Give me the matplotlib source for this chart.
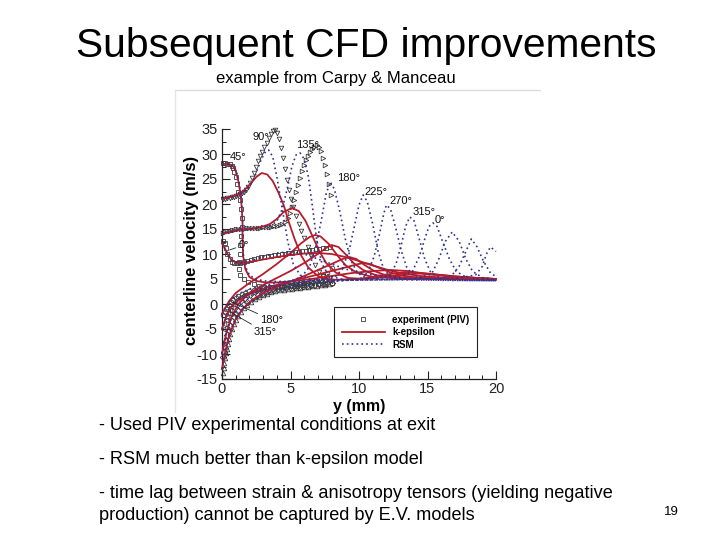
import matplotlib
matplotlib.use("Agg")
import matplotlib.pyplot as plt
from matplotlib.lines import Line2D
from matplotlib.ticker import MultipleLocator

plt.rcParams['font.family'] = ['Liberation Sans', 'DejaVu Sans']
plt.rcParams['axes.unicode_minus'] = False

# ---------------- data ----------------
PHASES = ["0", "45", "90", "135", "180", "225", "270", "315"]

# experiment (PIV)
EXP0_X = [0.1, 0.2, 0.3, 0.4, 0.55, 0.7, 0.9, 1.1, 1.35, 1.6, 1.85, 2.1, 2.35, 2.6, 2.85, 3.1, 3.35, 3.6,
          3.85, 4.1, 4.35, 4.6, 4.85, 5.1, 5.35, 5.6, 5.85, 6.1, 6.35, 6.6, 6.85, 7.1, 7.35, 7.6, 7.85]
EXP0_Y = [12.6, 12.2, 11.2, 10.0, 9.0, 8.5, 8.2, 8.2, 8.3, 8.4, 8.6, 8.8, 9.0, 9.2, 9.4, 9.5, 9.6, 9.7,
          9.8, 9.9, 10.0, 10.1, 10.2, 10.3, 10.4, 10.5, 10.6, 10.7, 10.8, 10.9, 11.0, 11.1, 11.2, 11.3, 11.4]
EXP45_X = [0.1, 0.25, 0.4, 0.55, 0.7, 0.8, 0.9, 1.0, 1.1, 1.2, 1.3, 1.4, 1.45, 1.45, 1.4, 1.35, 1.3, 1.25,
           1.25, 1.35, 1.6, 1.9, 2.3, 2.7, 3.1, 3.5, 4.0, 4.5, 5.0, 5.5, 6.0, 6.5, 7.0, 7.5, 8.0]
EXP45_Y = [28.2, 28.2, 28.1, 28.0, 27.7, 27.2, 26.4, 25.4, 24.0, 22.5, 20.8, 19.0, 17.2, 15.4, 13.6, 11.8,
           10.0, 8.4, 7.0, 5.9, 5.0, 4.4, 4.0, 3.7, 3.5, 3.4, 3.4, 3.5, 3.6, 3.7, 3.8, 3.9, 4.0, 4.1, 4.2]
EXP90_X = [0.1, 0.25, 0.4, 0.55, 0.7, 0.85, 1.0, 1.15, 1.3, 1.45, 1.6, 1.75, 1.9, 2.05, 2.2, 2.35, 2.5,
           2.65, 2.8, 2.95, 3.1, 3.25, 3.4, 3.55, 3.7, 3.85, 4.0, 4.15, 4.3, 4.45, 4.6, 4.75, 4.9, 5.05,
           5.2, 5.4, 5.6, 5.8, 6.0, 6.25, 6.5, 6.8, 7.1, 7.4, 7.7, 8.0]
EXP90_Y = [21.0, 21.1, 21.2, 21.3, 21.4, 21.5, 21.6, 21.8, 22.0, 22.2, 22.5, 22.9, 23.4, 24.2, 25.2, 26.3,
           27.5, 28.6, 29.6, 30.5, 31.4, 32.3, 33.2, 34.0, 34.7, 34.8, 34.2, 33.0, 31.2, 29.2, 27.0, 24.8,
           22.8, 21.0, 19.4, 17.6, 16.0, 14.6, 13.2, 11.4, 9.6, 7.8, 6.5, 5.6, 5.0, 4.6]
EXP135_X = [0.1, 0.25, 0.4, 0.55, 0.7, 0.85, 1.0, 1.2, 1.4, 1.6, 1.8, 2.0, 2.2, 2.4, 2.6, 2.8, 3.0, 3.2,
            3.4, 3.6, 3.8, 4.0, 4.2, 4.4, 4.6, 4.8, 4.95, 5.1, 5.25, 5.4, 5.55, 5.7, 5.85, 6.0, 6.15, 6.3,
            6.45, 6.6, 6.75, 6.9, 7.05, 7.2, 7.35, 7.5, 7.65, 7.8, 7.95]
EXP135_Y = [14.2, 14.4, 14.6, 14.7, 14.8, 14.9, 15.0, 15.0, 15.1, 15.1, 15.2, 15.2, 15.2, 15.3, 15.3, 15.3,
            15.4, 15.4, 15.5, 15.5, 15.6, 15.7, 15.9, 16.0, 16.4, 17.2, 18.2, 19.5, 20.9, 22.4, 23.9, 25.3,
            26.6, 27.8, 28.8, 29.7, 30.4, 31.0, 31.5, 31.8, 31.5, 30.6, 29.3, 27.8, 26.0, 24.0, 21.8]
EXP180_X = [0.1, 0.2, 0.3, 0.4, 0.5, 0.65, 0.8, 1.0, 1.2, 1.45, 1.7, 2.0, 2.3, 2.6, 2.9, 3.2, 3.5, 3.8,
            4.1, 4.4, 4.7, 5.0, 5.3, 5.6, 5.9, 6.2, 6.5, 6.8, 7.1, 7.4, 7.7, 8.0]
EXP180_Y = [-2.2, -1.6, -1.0, -0.5, -0.1, 0.4, 0.8, 1.2, 1.6, 2.0, 2.3, 2.6, 2.8, 3.0, 3.2, 3.3, 3.4, 3.5,
            3.6, 3.7, 3.8, 3.9, 4.0, 4.1, 4.2, 4.3, 4.4, 4.7, 5.1, 5.6, 6.3, 7.2]
EXP225_X = [0.1, 0.15, 0.2, 0.3, 0.4, 0.5, 0.6, 0.75, 0.9, 1.05, 1.2, 1.4, 1.6, 1.8, 2.0, 2.3, 2.6, 2.9,
            3.2, 3.5, 3.8, 4.1, 4.4, 4.7, 5.0, 5.3, 5.6, 5.9, 6.2, 6.5, 6.8, 7.1, 7.4, 7.7, 8.0]
EXP225_Y = [-10.5, -9.6, -8.8, -7.4, -6.2, -5.2, -4.4, -3.4, -2.6, -1.9, -1.3, -0.6, 0.0, 0.5, 0.9, 1.4,
            1.8, 2.1, 2.4, 2.6, 2.8, 3.0, 3.1, 3.2, 3.3, 3.4, 3.5, 3.6, 3.7, 3.8, 3.9, 4.0, 4.1, 4.2, 4.3]
EXP270_X = [0.1, 0.13, 0.17, 0.22, 0.28, 0.35, 0.43, 0.52, 0.62, 0.74, 0.88, 1.03, 1.2, 1.4, 1.6, 1.85,
            2.1, 2.4, 2.7, 3.0, 3.3, 3.6, 3.9, 4.2, 4.5, 4.8, 5.1, 5.4, 5.7, 6.0, 6.3, 6.6, 6.9, 7.2, 7.5, 7.8]
EXP270_Y = [-13.8, -12.8, -11.8, -10.8, -9.8, -8.9, -8.0, -7.0, -6.0, -5.0, -4.0, -3.1, -2.3, -1.5, -0.8,
            -0.1, 0.5, 1.0, 1.4, 1.8, 2.1, 2.4, 2.6, 2.8, 2.9, 3.0, 3.1, 3.2, 3.3, 3.4, 3.5, 3.6, 3.7, 3.8,
            3.9, 4.0]
EXP315_X = [0.1, 0.18, 0.26, 0.35, 0.45, 0.56, 0.68, 0.82, 0.98, 1.15, 1.35, 1.6, 1.85, 2.1, 2.4, 2.7,
            3.0, 3.3, 3.6, 3.9, 4.2, 4.5, 4.8, 5.1, 5.4, 5.7, 6.0, 6.3, 6.6, 6.9, 7.2, 7.5, 7.8]
EXP315_Y = [-5.0, -4.0, -3.2, -2.5, -1.8, -1.2, -0.6, 0.0, 0.5, 1.0, 1.4, 1.8, 2.1, 2.4, 2.7, 2.9, 3.1,
            3.3, 3.5, 3.6, 3.7, 3.8, 3.9, 4.0, 4.1, 4.2, 4.3, 4.4, 4.5, 4.6, 4.7, 4.8, 4.9]

# k-epsilon
KE0_X = [0, 0.2, 0.4, 0.7, 1.0, 1.5, 2.0, 3.0, 4.0, 5.0, 6.0, 7.0, 8.0, 9.0, 10.0, 11.0, 12.0, 13.0, 14.5,
         16.0, 18.0, 20.0]
KE0_Y = [12.2, 11.2, 10.0, 8.8, 8.3, 8.2, 8.4, 8.9, 9.4, 9.8, 10.1, 10.2, 10.0, 9.4, 8.6, 7.7, 6.9, 6.2,
         5.6, 5.3, 5.1, 5.0]
KE45_X = [0, 0.5, 0.8, 1.0, 1.2, 1.35, 1.45, 1.5, 1.5, 1.55, 1.7, 2.0, 2.5, 3.2, 4.0, 5.0, 6.5, 8.0, 9.5,
          11.0, 12.3, 13.5, 15.0, 17.0, 20.0]
KE45_Y = [28.0, 28.0, 27.6, 26.6, 24.5, 22.0, 19.0, 16.0, 12.5, 9.5, 7.0, 5.4, 4.6, 4.3, 4.3, 4.5, 5.0,
          5.6, 6.2, 6.6, 6.8, 6.6, 6.0, 5.4, 5.0]
KE90_X = [0, 0.5, 1.0, 1.5, 2.0, 2.5, 2.9, 3.3, 3.7, 4.1, 4.5, 4.9, 5.3, 5.8, 6.3, 7.0, 8.0, 10.0, 12.0,
          13.5, 15.0, 17.0, 20.0]
KE90_Y = [21.0, 21.3, 21.7, 22.4, 23.8, 25.4, 26.2, 25.9, 24.6, 22.4, 19.8, 16.2, 13.0, 9.6, 7.3, 5.6,
          4.8, 5.0, 5.9, 6.4, 6.1, 5.5, 5.0]
KE135_X = [0, 0.5, 1.0, 1.5, 2.0, 2.5, 3.0, 3.5, 4.0, 4.5, 5.1, 5.6, 6.1, 6.6, 7.1, 7.6, 8.3, 9.2, 10.5,
           12.5, 14.3, 16, 18, 20]
KE135_Y = [14.0, 14.4, 14.7, 14.9, 15.0, 15.2, 15.5, 16.0, 17.0, 18.4, 19.2, 18.6, 16.6, 13.6, 10.6, 8.2,
           6.3, 5.2, 5.0, 5.6, 6.1, 5.8, 5.3, 5.0]
KE180_X = [0, 0.5, 1, 2, 3, 4, 5, 5.8, 6.4, 6.8, 7.2, 7.8, 8.4, 9.0, 9.8, 11, 13, 15, 17, 20]
KE180_Y = [-2, 0.5, 2.2, 4.2, 6.0, 8.0, 10.2, 12.2, 13.4, 13.8, 13.5, 12.0, 9.8, 7.8, 6.3, 5.4, 5.1, 5.2,
           5.1, 5.0]
KE225_X = [0, 0.3, 0.7, 1.2, 2, 3, 4, 5, 6, 7, 7.6, 8.0, 8.5, 9.0, 9.6, 10.3, 11.2, 12.5, 14, 16, 18, 20]
KE225_Y = [-10, -6, -2.5, 0, 2.2, 3.8, 5.2, 6.6, 8.2, 10.0, 11.2, 11.8, 11.4, 10.0, 8.2, 6.8, 5.8, 5.2,
           5.0, 5.1, 5.0, 4.9]
KE270_X = [0, 0.2, 0.5, 1, 1.5, 2.2, 3, 4, 5, 6, 7, 8, 8.8, 9.3, 9.8, 10.4, 11.1, 12, 13.5, 16, 20]
KE270_Y = [-13, -10, -6.5, -3, -1, 0.8, 2.2, 3.4, 4.5, 5.6, 6.8, 8.0, 9.0, 9.4, 9.0, 7.8, 6.6, 5.7, 5.2,
           5.0, 4.9]
KE315_X = [0, 0.3, 0.7, 1.2, 2, 3, 4, 5, 6, 7, 8, 9, 9.8, 10.3, 10.8, 11.5, 12.3, 13.3, 15, 17, 20]
KE315_Y = [-5, -2.5, -0.5, 0.8, 2.0, 3.0, 3.8, 4.5, 5.2, 5.9, 6.6, 7.3, 7.9, 8.2, 8.0, 7.2, 6.3, 5.6, 5.1,
           5.0, 4.9]

# RSM
RSM0_X = [0, 0.4, 0.8, 1.3, 2, 3, 4, 5, 6, 7, 8, 9, 10, 11, 12, 13, 13.9, 14.4, 14.8, 15.1, 15.4, 15.7,
          16.1, 16.6, 17.1, 17.8, 19, 20]
RSM0_Y = [12.2, 10.0, 8.5, 8.0, 8.5, 9.5, 10.2, 10.5, 10.0, 9.0, 8.0, 7.0, 6.3, 5.8, 5.5, 5.4, 6.5, 9.5,
          13.0, 15.5, 16.2, 15.5, 12.5, 9.0, 6.5, 5.4, 4.9, 4.8]
RSM45_X = [0, 0.5, 0.8, 1.0, 1.2, 1.35, 1.45, 1.5, 1.5, 1.55, 1.7, 2.0, 2.5, 3.2, 4.0, 6.0, 8.0, 10.0,
           12.0, 14.0, 15.3, 15.8, 16.3, 16.8, 17.3, 17.8, 18.3, 19.0, 20.0]
RSM45_Y = [28.0, 28.0, 27.7, 26.9, 25.0, 22.5, 19.5, 16.5, 13.0, 10.0, 7.5, 5.8, 4.9, 4.6, 4.5, 4.6, 4.7,
           4.8, 4.9, 5.0, 6.0, 8.8, 12.5, 14.4, 12.6, 9.0, 6.5, 5.3, 4.9]
RSM90_X = [0, 0.5, 1.0, 1.5, 2.0, 2.4, 2.8, 3.1, 3.4, 3.7, 4.0, 4.4, 4.8, 5.2, 5.7, 6.5, 8, 10, 12, 14,
           16, 16.8, 17.3, 17.8, 18.2, 18.6, 19.1, 19.6, 20]
RSM90_Y = [21, 21.2, 21.6, 22.2, 23.5, 25.5, 28.5, 30.2, 30.8, 29.5, 25.5, 19, 12.5, 8, 5.8, 4.9, 4.7,
           4.8, 4.9, 5.0, 5.1, 5.8, 7.5, 10.5, 13.0, 11.5, 8.5, 6.2, 5.5]
RSM135_X = [0, 0.5, 1, 1.5, 2, 2.5, 3, 3.5, 4.0, 4.4, 4.8, 5.1, 5.4, 5.7, 6.0, 6.3, 6.6, 6.9, 7.3, 7.8,
            9, 11, 13, 15, 17, 18.5, 19.0, 19.3, 19.6, 20.0]
RSM135_Y = [14, 14.4, 14.7, 14.9, 15.0, 15.1, 15.3, 15.6, 16.5, 19, 23.5, 27.5, 29.8, 30.2, 29.0, 25.5,
            19.5, 13.0, 8.0, 5.6, 4.8, 4.8, 4.9, 5.0, 5.1, 5.8, 7.5, 10, 11.4, 10.5]
RSM180_X = [0, 0.3, 0.7, 1.2, 2, 3, 4, 5, 5.8, 6.4, 6.9, 7.3, 7.6, 7.9, 8.2, 8.6, 9.0, 9.4, 9.9, 10.5,
            12, 14, 16, 18, 20]
RSM180_Y = [-2, -0.3, 1.0, 2.0, 3.0, 3.7, 4.2, 4.6, 5.4, 7.5, 12, 17.5, 22, 24.4, 23, 18.5, 13, 8.8, 6.2,
            5.2, 4.9, 4.8, 4.8, 4.7, 4.7]
RSM225_X = [0, 0.2, 0.5, 1, 1.5, 2.2, 3, 4, 5.5, 7, 8.2, 8.8, 9.3, 9.7, 10.0, 10.3, 10.6, 11.0, 11.4,
            11.8, 12.3, 13, 15, 17, 20]
RSM225_Y = [-10, -7, -4, -1.2, 0.5, 1.8, 2.8, 3.6, 4.3, 4.8, 5.3, 7.0, 11, 16, 19.8, 21.8, 20.5, 16, 10.5,
            7.0, 5.5, 5.0, 4.8, 4.7, 4.7]
RSM270_X = [0, 0.2, 0.5, 1, 1.5, 2.2, 3, 4, 5.5, 7, 8.5, 10, 10.6, 11.1, 11.5, 11.8, 12.0, 12.3, 12.7,
            13.1, 13.5, 14.0, 15, 17, 20]
RSM270_Y = [-13, -9.5, -6, -2.8, -1, 0.6, 1.8, 2.8, 3.6, 4.2, 4.6, 4.9, 6.0, 9.5, 14, 18, 19.8, 19, 15,
            10.5, 7.2, 5.6, 5.0, 4.8, 4.7]
RSM315_X = [0, 0.3, 0.7, 1.2, 2, 3, 4, 5.5, 7, 9, 11, 12.2, 12.7, 13.1, 13.4, 13.7, 14.0, 14.4, 14.8,
            15.2, 15.7, 16.5, 18, 20]
RSM315_Y = [-5, -2.8, -0.8, 0.8, 2.0, 3.0, 3.6, 4.2, 4.6, 4.9, 5.0, 5.5, 8, 12, 15.5, 17.4, 16.8, 13, 9,
            6.5, 5.5, 5.0, 4.8, 4.7]

EXP = [(EXP0_X, EXP0_Y), (EXP45_X, EXP45_Y), (EXP90_X, EXP90_Y), (EXP135_X, EXP135_Y),
       (EXP180_X, EXP180_Y), (EXP225_X, EXP225_Y), (EXP270_X, EXP270_Y), (EXP315_X, EXP315_Y)]
KE = [(KE0_X, KE0_Y), (KE45_X, KE45_Y), (KE90_X, KE90_Y), (KE135_X, KE135_Y),
      (KE180_X, KE180_Y), (KE225_X, KE225_Y), (KE270_X, KE270_Y), (KE315_X, KE315_Y)]
RSM = [(RSM0_X, RSM0_Y), (RSM45_X, RSM45_Y), (RSM90_X, RSM90_Y), (RSM135_X, RSM135_Y),
       (RSM180_X, RSM180_Y), (RSM225_X, RSM225_Y), (RSM270_X, RSM270_Y), (RSM315_X, RSM315_Y)]
EXP_MARKERS = ['s', 's', 'v', '>', 'o', 'D', '^', '<']

# phase annotations: (text, x, y)
PHASE_LABELS = [("45°", 0.6, 29.5), ("90°", 2.2, 33.3), ("135°", 5.4, 31.8), ("180°", 8.4, 25.2),
                ("225°", 10.4, 22.4), ("270°", 12.2, 20.6), ("315°", 13.9, 18.4), ("0°", 15.5, 16.8)]
LEADER_LABELS = [("0°", 1.2, 11.8, 0.55, 10.8), ("180°", 2.8, -3.2, 0.7, 0.4), ("315°", 2.3, -5.6, 0.6, -1.6)]

X_TICKS = [0, 5, 10, 15, 20]
Y_TICKS = [-15, -10, -5, 0, 5, 10, 15, 20, 25, 30, 35]

RED = '#b81c2a'
BLUE = '#33338f'
RSM_DASH = (0, (1, 1.9))

# ---------------- figure ----------------
W, H = 720, 540
fig = plt.figure(figsize=(7.2, 5.4), dpi=100)
fig.patch.set_facecolor('white')


def fx(px):
    return px / W


def fy(py):
    return 1 - py / H


# faint border of the embedded picture
fig.add_artist(Line2D([fx(175), fx(540)], [fy(90), fy(90)], color='#dcdcdc', lw=1.0))
fig.add_artist(Line2D([fx(175), fx(175)], [fy(90), fy(412)], color='#e6e6e6', lw=1.0))

ax = fig.add_axes([fx(222), fy(379), fx(496) - fx(222), fy(129) - fy(379)])
ax.set_xlim(0, 20)
ax.set_ylim(-15, 35)
for s in ['top', 'right']:
    ax.spines[s].set_visible(False)
for s in ['left', 'bottom']:
    ax.spines[s].set_linewidth(0.9)
    ax.spines[s].set_color('#222222')

for (x, y), m in zip(EXP, EXP_MARKERS):
    ax.plot(x, y, linestyle='none', marker=m, markersize=3.3, markerfacecolor='none',
            markeredgecolor='#3a3a3a', markeredgewidth=0.6, zorder=2, clip_on=False)
for x, y in KE:
    ax.plot(x, y, color=RED, lw=1.3, zorder=3, clip_on=False)
for x, y in RSM:
    ax.plot(x, y, color=BLUE, lw=1.2, linestyle=RSM_DASH, zorder=4, clip_on=False)

for t, x, y in PHASE_LABELS:
    ax.text(x, y, t, fontsize=8, ha='left', va='center', color='#111111', zorder=6)
for t, x, y, x0, y0 in LEADER_LABELS:
    ax.annotate(t, xy=(x0, y0), xytext=(x, y), fontsize=8, ha='left', va='center', color='#111111',
                arrowprops=dict(arrowstyle='-', lw=0.6, color='#222222', shrinkA=0, shrinkB=0), zorder=6)

ax.set_xticks(X_TICKS)
ax.set_yticks(Y_TICKS)
ax.xaxis.set_minor_locator(MultipleLocator(1))
ax.yaxis.set_minor_locator(MultipleLocator(2.5))
ax.tick_params(which='major', direction='in', length=6, width=0.8, labelsize=10.5, colors='#222222', pad=3)
ax.tick_params(which='minor', direction='in', length=3, width=0.7, colors='#222222')
ax.tick_params(axis='x', pad=2)

ax.set_xlabel('y (mm)', fontsize=11.5, fontweight='bold', labelpad=2)
ax.set_ylabel('centerline velocity (m/s)', fontsize=12, fontweight='bold')
ax.yaxis.set_label_coords((199 - 222) / 274, (379 - 250) / 250)

handles = [Line2D([], [], linestyle='none', marker='s', markersize=3.3, markerfacecolor='none',
                  markeredgecolor='#3a3a3a', markeredgewidth=0.6),
           Line2D([], [], color=RED, lw=1.3),
           Line2D([], [], color=BLUE, lw=1.2, linestyle=RSM_DASH)]
leg = ax.legend(handles, ['experiment (PIV)', 'k-epsilon', 'RSM'], loc='upper left',
                bbox_to_anchor=((334 - 222) / 274, (379 - 307) / 250), borderaxespad=0,
                prop={'size': 7, 'weight': 'bold'}, handlelength=4.4, handletextpad=0.8,
                labelspacing=0.25, borderpad=0.8, fancybox=False, framealpha=1, edgecolor='#222222',
                numpoints=1)
leg.get_frame().set_linewidth(0.8)
leg.set_zorder(10)

# slide texts
fig.text(fx(366), fy(46), 'Subsequent CFD improvements', fontsize=29.3, ha='center', va='center')
fig.text(fx(336), fy(79), 'example from Carpy & Manceau', fontsize=12, ha='center', va='center')
BODY = 13.1
fig.text(fx(99), fy(426), '- Used PIV experimental conditions at exit', fontsize=BODY, ha='left', va='center')
fig.text(fx(99), fy(460), '- RSM much better than k-epsilon model', fontsize=BODY, ha='left', va='center')
fig.text(fx(99), fy(494), '- time lag between strain & anisotropy tensors (yielding negative',
         fontsize=BODY, ha='left', va='center')
fig.text(fx(99), fy(516), 'production) cannot be captured by E.V. models', fontsize=BODY, ha='left',
         va='center')
fig.text(fx(671), fy(512), '19', fontsize=9.5, ha='center', va='center')

fig.savefig('out.png', dpi=100, facecolor='white')
